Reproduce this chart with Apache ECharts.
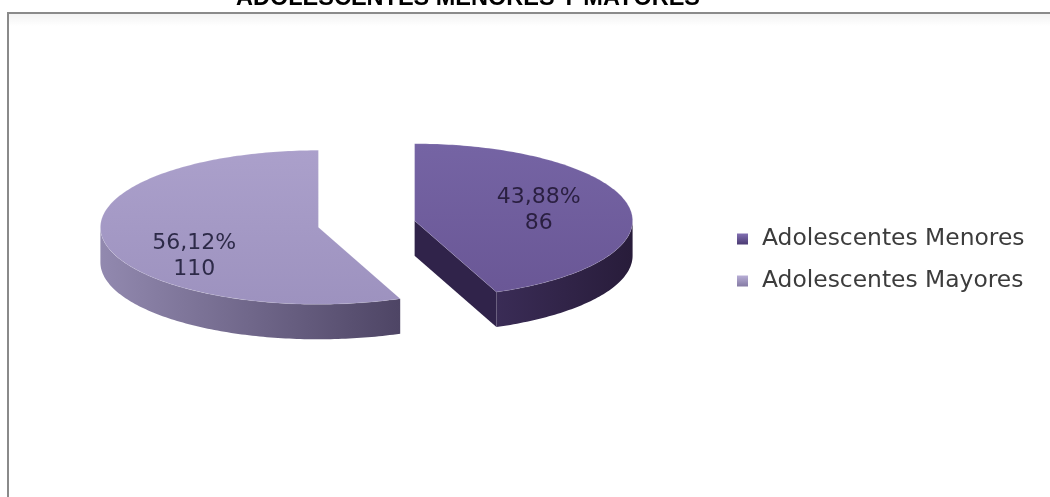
<!DOCTYPE html>
<html>
<head>
<meta charset="utf-8">
<script src="https://cdn.jsdelivr.net/npm/echarts@6/dist/echarts.min.js"></script>
<style>
  html, body { margin: 0; padding: 0; background: #ffffff; }
  #chart { width: 1050px; height: 497px; }
</style>
</head>
<body>
<div id="chart"></div>
<script>
// Data
const titleText = 'ADOLESCENTES MENORES Y MAYORES';
const categories = ['Adolescentes Menores', 'Adolescentes Mayores'];
const counts = [86, 110];

const total = counts.reduce((a, b) => a + b, 0);

// Geometry of the tilted (3D-looking) pie
const pie = {
  cx: 366.5, cy: 224,   // centre of the un-exploded pie
  rx: 218, ry: 77,      // ellipse radii of the top face
  depth: 35,            // thickness of the disc
  explode: 49,          // slice offset along its bisector
  labelFrac: 0.58,      // label distance from centre (fraction of radius)
  labelLift: 178,       // vertical spread of labels along the bisector
  labelDrop: 9
};

const palette = [
  { top: ['#7564A4', '#6A5796'], wall: ['#3A2C56', '#281C3A'], cut: '#30234A', label: '#2A1F40',
    legend: ['#8270B3', '#4A3A72'] },
  { top: ['#ABA0CB', '#9D92BF'], wall: ['#9289AF', '#4E4565'], cut: '#6E6590', label: '#2D2A48',
    legend: ['#B8AED6', '#847AA3'] }
];

const rad = d => d * Math.PI / 180;

function sliceAngles(i) {
  let before = 0;
  for (let k = 0; k < i; k++) before += counts[k];
  const a0 = 90 - 360 * before / total;       // clockwise from 12 o'clock
  const a1 = a0 - 360 * counts[i] / total;
  return [a1, a0];
}

function pt(c, deg, dy) {
  return [c[0] + pie.rx * Math.cos(rad(deg)), c[1] - pie.ry * Math.sin(rad(deg)) + (dy || 0)];
}

function arc(c, from, to, dy) {
  const pts = [];
  const n = Math.max(2, Math.ceil(Math.abs(to - from)));
  for (let j = 0; j <= n; j++) pts.push(pt(c, from + (to - from) * j / n, dy));
  return pts;
}

function vGrad(a, b) {
  return new echarts.graphic.LinearGradient(0, 0, 0, 1, [{ offset: 0, color: a }, { offset: 1, color: b }]);
}
function hGrad(a, b) {
  return new echarts.graphic.LinearGradient(0, 0, 1, 0, [{ offset: 0, color: a }, { offset: 1, color: b }]);
}

function renderSlice(params, api) {
  const i = api.value(1);
  const [a1, a0] = sliceAngles(i);
  const mid = (a0 + a1) / 2;
  const c = [
    pie.cx + pie.explode * Math.cos(rad(mid)),
    pie.cy - pie.explode * (pie.ry / pie.rx) * Math.sin(rad(mid))
  ];
  const col = palette[i];
  const h = pie.depth;
  const children = [];

  // radial cut faces turned towards the viewer
  [[a0, Math.cos(rad(a0)) < -1e-6], [a1, Math.cos(rad(a1)) > 1e-6]].forEach(([a, visible]) => {
    if (!visible) return;
    const e = pt(c, a);
    children.push({
      type: 'polygon',
      shape: { points: [c, e, [e[0], e[1] + h], [c[0], c[1] + h]] },
      style: { fill: col.cut }
    });
  });

  // front part of the rim
  for (let k = -2; k <= 1; k++) {
    const lo = Math.max(a1, -180 + 360 * k);
    const hi = Math.min(a0, 360 * k);
    if (hi - lo > 0.01) {
      const pts = arc(c, lo, hi).concat(arc(c, hi, lo, h));
      children.push({
        type: 'polygon',
        shape: { points: pts },
        style: { fill: hGrad(col.wall[0], col.wall[1]) }
      });
    }
  }

  // top face
  children.push({
    type: 'polygon',
    shape: { points: [c].concat(arc(c, a0, a1)) },
    style: { fill: vGrad(col.top[0], col.top[1]), stroke: 'rgba(255,255,255,0.12)', lineWidth: 1 }
  });

  // value label
  const pct = (100 * counts[i] / total).toFixed(2).replace('.', ',') + '%';
  const lx = c[0] + pie.labelFrac * pie.rx * Math.cos(rad(mid));
  const ly = c[1] + pie.labelDrop - pie.labelFrac * pie.labelLift * Math.sin(rad(mid));
  children.push({
    type: 'text',
    x: lx, y: ly,
    style: {
      text: pct + '\n' + counts[i],
      fill: col.label,
      fontSize: 22,
      fontFamily: 'DejaVu Sans',
      align: 'center',
      verticalAlign: 'middle',
      lineHeight: 26
    }
  });

  return { type: 'group', children };
}

const chart = echarts.init(document.getElementById('chart'), null, { renderer: 'canvas' });

chart.setOption({
  backgroundColor: '#ffffff',
  animation: false,
  title: {
    text: titleText,
    left: 236,
    top: -13,
    padding: 0,
    textStyle: { fontFamily: 'Liberation Sans', fontWeight: 'bold', fontSize: 23.5, color: '#000000' }
  },
  graphic: [
    {
      type: 'rect', z: -10, silent: true,
      shape: { x: 8, y: 14, width: 1100, height: 12 },
      style: { fill: vGrad('rgba(0,0,0,0.05)', 'rgba(0,0,0,0)') }
    },
    {
      type: 'rect', z: -9, silent: true,
      shape: { x: 8, y: 13, width: 1100, height: 600 },
      style: { fill: 'none', stroke: '#8a8a8a', lineWidth: 2 }
    }
  ],
  legend: {
    data: categories,
    orient: 'vertical',
    left: 737,
    top: 226,
    padding: 0,
    icon: 'rect',
    itemWidth: 11,
    itemHeight: 11,
    itemGap: 16,
    textStyle: {
      fontFamily: 'DejaVu Sans',
      fontSize: 23.4,
      color: '#3c3c3c',
      lineHeight: 26,
      padding: [0, 0, 0, 9]
    }
  },
  series: categories.map((name, i) => ({
    type: 'custom',
    name: name,
    coordinateSystem: 'none',
    data: [[counts[i], i]],
    itemStyle: { color: vGrad(palette[i].legend[0], palette[i].legend[1]) },
    renderItem: renderSlice
  }))
});
</script>
</body>
</html>
